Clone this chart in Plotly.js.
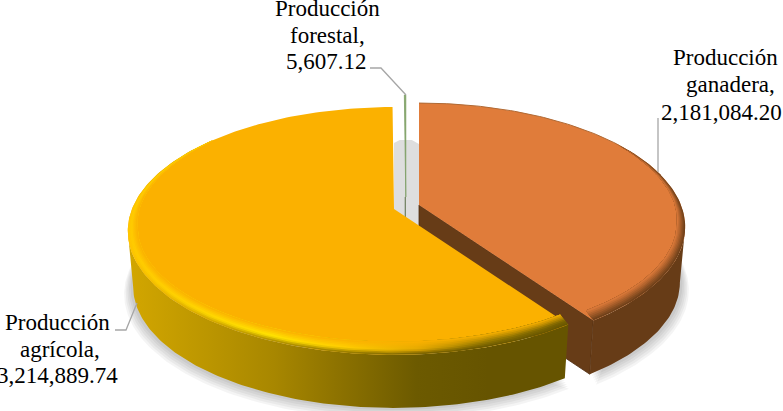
<!DOCTYPE html>
<html><head><meta charset="utf-8">
<script src="https://cdn.plot.ly/plotly-3.0.1.min.js"></script>
<style>html,body{margin:0;padding:0;background:#fff}#c{width:783px;height:411px}</style>
</head><body><div id="c"></div>
<script>
const categories = ['Producción ganadera','Producción agrícola','Producción forestal'];
const values = [2181084.20, 3214889.74, 5607.12];
const labelLines = [
  ['Producción','ganadera,','2,181,084.20'],
  ['Producción','agrícola,','3,214,889.74'],
  ['Producción','forestal,','5,607.12']
];
const labelCx = [[725,730,721],[57.5,60,57],[327,327,326.5]];
const labelCy = [[57,84,112],[322,349,375],[8,35,61]];
const leaders = [
  {x:[658,658],y:[118,172]},
  {x:[115,126,137],y:[330,330,303]},
  {x:[370,381,406],y:[68,68,95]}
];
const centers = [[419,205],[394,209],[405.8,197]];
const K=0.177, AY=120, BX=262, DEPTH=56, S=0.98;
const total = values.reduce((a,b)=>a+b,0);
let acc=0;
const spans = values.map(v=>{const s=acc/total*360; acc+=v; return [s,acc/total*360];});
const EXT=Math.acos(-K)*180/Math.PI;

function topP(c,th,ru,rv){ru=ru===undefined?1:ru;rv=rv===undefined?ru:rv;
  const t=th*Math.PI/180,u=Math.sin(t)*ru,v=Math.cos(t)*rv,d=1+K*v;
  return [c[0]+BX*u/d,c[1]-AY*v/d];}
function botP(c,th,s,dx,dy){s=s||S;dx=dx||0;dy=dy||0;
  const t=th*Math.PI/180,u=Math.sin(t),v=Math.cos(t),d=1+K*v;
  return [c[0]+dx+BX*s*u/d,c[1]+DEPTH+dy-AY*s*v/d];}
function arc(a,b,f){const n=Math.max(2,Math.ceil(Math.abs(b-a)));const o=[];
  for(let i=0;i<=n;i++)o.push(f(a+(b-a)*i/n));return o;}
function poly(pts,style){const xs=pts.map(p=>p[0]),ys=pts.map(p=>p[1]);xs.push(xs[0]);ys.push(ys[0]);
  return Object.assign({type:'scatter',mode:'lines',x:xs,y:ys,fill:'toself',line:{width:0},hoverinfo:'skip',showlegend:false},style);}
function hex(c){return [parseInt(c.slice(1,3),16),parseInt(c.slice(3,5),16),parseInt(c.slice(5,7),16)];}
function mix(a,b,t){const P=hex(a),Q=hex(b);return '#'+P.map((v,i)=>Math.round(v+(Q[i]-v)*t).toString(16).padStart(2,'0')).join('');}
function rampAt(stops,t){for(let i=1;i<stops.length;i++){if(t<=stops[i][0]){const p=stops[i-1],q=stops[i];
  return mix(p[1],q[1],(t-p[0])/(q[0]-p[0]));}}return stops[stops.length-1][1];}
function grad(x0,x1,cols){return {type:'horizontal',start:x0,stop:x1,colorscale:cols.map((c,i)=>[i/(cols.length-1),c])};}

const traces=[];
/* soft shadows */
[[0,spans[0]],[1,spans[1]]].forEach(([i,sp])=>{
  for(let l=1;l<=5;l++){
    const a=i===1?sp[0]:70,b=i===1?285:sp[1];
    const pts=arc(a,b,th=>botP(centers[i],th,S+0.006*l,i===1?-1:1,l*1.4));
    traces.push(poly(pts,{fillcolor:'rgba(0,0,0,0.045)'}));
  }
});
/* shadow visible through the gap between slices */
const gapY0=centers[1][1]-AY/(1+K)+33, gapY1=centers[0][1]+22;
traces.push(poly([[centers[1][0],gapY0+3],[centers[2][0]-6,gapY0],[centers[2][0]+6,gapY0],[centers[0][0],gapY0+4],[centers[0][0],gapY1],[centers[1][0],gapY1]],{fillcolor:'#dedede'}));
/* forestal sliver */
{const c=centers[2],sp=spans[2];
 const f=[c].concat(arc(sp[0],sp[1],th=>topP(c,th)));
 traces.push(poly(f,{fillcolor:'#7ea35e',line:{width:0.8,color:'#7f9f68'}}));
 traces.push({type:'scatter',mode:'lines',x:[c[0]-0.5,c[0]-0.5],y:[c[1],c[1]+20],line:{width:1.2,color:'#6d7d5c'},hoverinfo:'skip',showlegend:false});
}
/* ganadera */
const orange='#e07c3a',brown='#673c17';
{const c=centers[0],sp=spans[0];
 const cb=[c[0],c[1]+DEPTH];
 traces.push(poly([c,topP(c,sp[1]),botP(c,sp[1]),cb],{fillcolor:brown,line:{width:0.8,color:'#4e2c10'}}));
 const wall=arc(EXT,sp[1],th=>topP(c,th)).concat(arc(sp[1],EXT,th=>botP(c,th)));
 traces.push(poly(wall,{fillcolor:brown}));
 const face=[c].concat(arc(sp[0],sp[1],th=>topP(c,th)));
 traces.push(poly(face,{fillcolor:orange}));
 const f2=arc(sp[0],sp[0]+75,th=>topP(c,th));
 traces.push({type:'scatter',mode:'lines',x:f2.map(p=>p[0]),y:f2.map(p=>p[1]),line:{width:1,color:'#b06a35'},hoverinfo:'skip',showlegend:false});
 const N=7;
 for(let k=0;k<N;k++){
   const t=(k+0.5)/N;
   const wOut=k/N,wIn=1;
   const rim=th=>Math.min(1,Math.max(0,(th-55)/45));
   const outer=arc(55,sp[1],th=>topP(c,th,1-0.03*wOut*rim(th),1-0.075*wOut*rim(th)));
   const inner=arc(sp[1],55,th=>topP(c,th,1-0.03*wIn*rim(th),1-0.075*wIn*rim(th)));
   traces.push(poly(outer.concat(inner),{fillcolor:mix(brown,orange,t)}));
 }
}
/* agricola */
const gold='#fbb100';
{const c=centers[1],sp=spans[1];
 const wallStops=['#d2a600','#bd9700','#a88700','#8a7000','#6c5a00','#665400','#665400'];
 const wall=arc(sp[0],360-EXT,th=>topP(c,th)).concat(arc(360-EXT,sp[0],th=>botP(c,th)));
 traces.push(poly(wall,{fillcolor:'#a88700',fillgradient:grad(130,560,wallStops)}));
 const face=[c].concat(arc(sp[0],sp[1],th=>topP(c,th)));
 traces.push(poly(face,{fillcolor:gold}));
 const ridge=['#ffcb00','#ffd800','#ffe500','#ffcf00','#e5aa00','#8f7400','#7a6300'];
 const edge=['#ffc400','#d2a600','#a88700','#8a7000','#6c5a00','#665400','#665400'];
 const N=8;
 const TAPER=th=>Math.min(1,Math.max(0,(310-th)/50));
 for(let k=0;k<N;k++){
   const t=(k+0.5)/N;
   const cols=edge.map((w,i)=>rampAt([[0,w],[0.38,ridge[i]],[1,gold]],t));
   const wOut=k/N;
   const outer=arc(sp[0],310,th=>topP(c,th,1-0.035*wOut*TAPER(th),1-0.075*wOut*TAPER(th)));
   const inner=arc(310,sp[0],th=>topP(c,th,1-0.035*TAPER(th),1-0.075*TAPER(th)));
   traces.push(poly(outer.concat(inner),{fillcolor:gold,fillgradient:grad(130,560,cols)}));
 }
}
/* leader lines */
leaders.forEach(l=>traces.push({type:'scatter',mode:'lines',x:l.x,y:l.y,line:{width:1.3,color:'#a6a6a6'},hoverinfo:'skip',showlegend:false}));

const annotations=[];
labelLines.forEach((lines,i)=>lines.forEach((txt,j)=>annotations.push({
  x:labelCx[i][j],y:labelCy[i][j],xref:'x',yref:'y',text:txt,showarrow:false,xanchor:'center',yanchor:'middle',
  font:{family:'"Liberation Serif",serif',size:23,color:'#000'}
})));
const layout={width:783,height:411,margin:{l:0,r:0,t:0,b:0},paper_bgcolor:'#fff',plot_bgcolor:'#fff',showlegend:false,
  xaxis:{range:[0,783],visible:false,fixedrange:true},
  yaxis:{range:[411,0],visible:false,fixedrange:true},
  annotations};
Plotly.newPlot('c',traces,layout,{displayModeBar:false,staticPlot:true});
</script></body></html>
